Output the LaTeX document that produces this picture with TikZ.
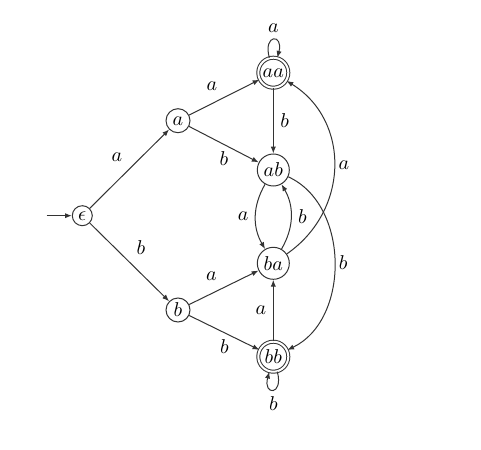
\documentclass[tikz,border=0pt]{standalone}
\usetikzlibrary{arrows.meta}
\begin{document}
\begin{tikzpicture}[x=0.5pt,y=-0.5pt,
  >={Latex[length=3.4pt,width=2.6pt]},
  edge/.style={->,line width=0.5pt,draw=black!80},
  small/.style={circle,draw=black!80,line width=0.5pt,inner sep=0pt,minimum size=12pt},
  state/.style={circle,draw=black!80,line width=0.5pt,inner sep=0pt,minimum size=16pt},
  accept/.style={state,double,double distance=1pt,minimum size=15pt},
  every loop/.style={min distance=2mm,looseness=8}
]
\useasboundingbox (0,0) rectangle (481,449);
\node[small,minimum size=10pt] (e) at (82.3,215.7) {$\epsilon$};
\node[small] (a) at (178,120.7) {$a$};
\node[small] (b) at (178,310) {$b$};
\node[accept] (aa) at (273.3,72.7) {$aa$};
\node[state] (ab) at (273.3,170) {$ab$};
\node[state] (ba) at (273.3,263.3) {$ba$};
\node[accept] (bb) at (273.3,356.7) {$bb$};
\coordinate (start) at (46.7,215.7);

\draw[edge] (start) -- (e);
\draw[edge] (e) -- node[above left] {$a$} (a);
\draw[edge] (e) -- node[above right] {$b$} (b);
\draw[edge] (a) -- node[above left] {$a$} (aa);
\draw[edge] (a) -- node[below] {$b$} (ab);
\draw[edge] (b) -- node[above left] {$a$} (ba);
\draw[edge] (b) -- node[below] {$b$} (bb);
\draw[edge] (aa) -- node[right] {$b$} (ab);
\draw[edge] (bb) -- node[left] {$a$} (ba);
\draw[edge] (ab) to[bend right=30] node[left] {$a$} (ba);
\draw[edge] (ba) to[bend right=30] node[right] {$b$} (ab);
\draw[edge] (ba) .. controls (350,210) and (350,120) .. node[right,inner sep=2pt] {$a$} (aa);
\draw[edge] (ab) .. controls (350,205) and (350,320) .. node[right,inner sep=2pt] {$b$} (bb);
\draw[edge] (aa) to[out=105,in=75,loop] node[above] {$a$} (aa);
\draw[edge] (bb) to[out=-75,in=-105,loop] node[below] {$b$} (bb);
\end{tikzpicture}
\end{document}
